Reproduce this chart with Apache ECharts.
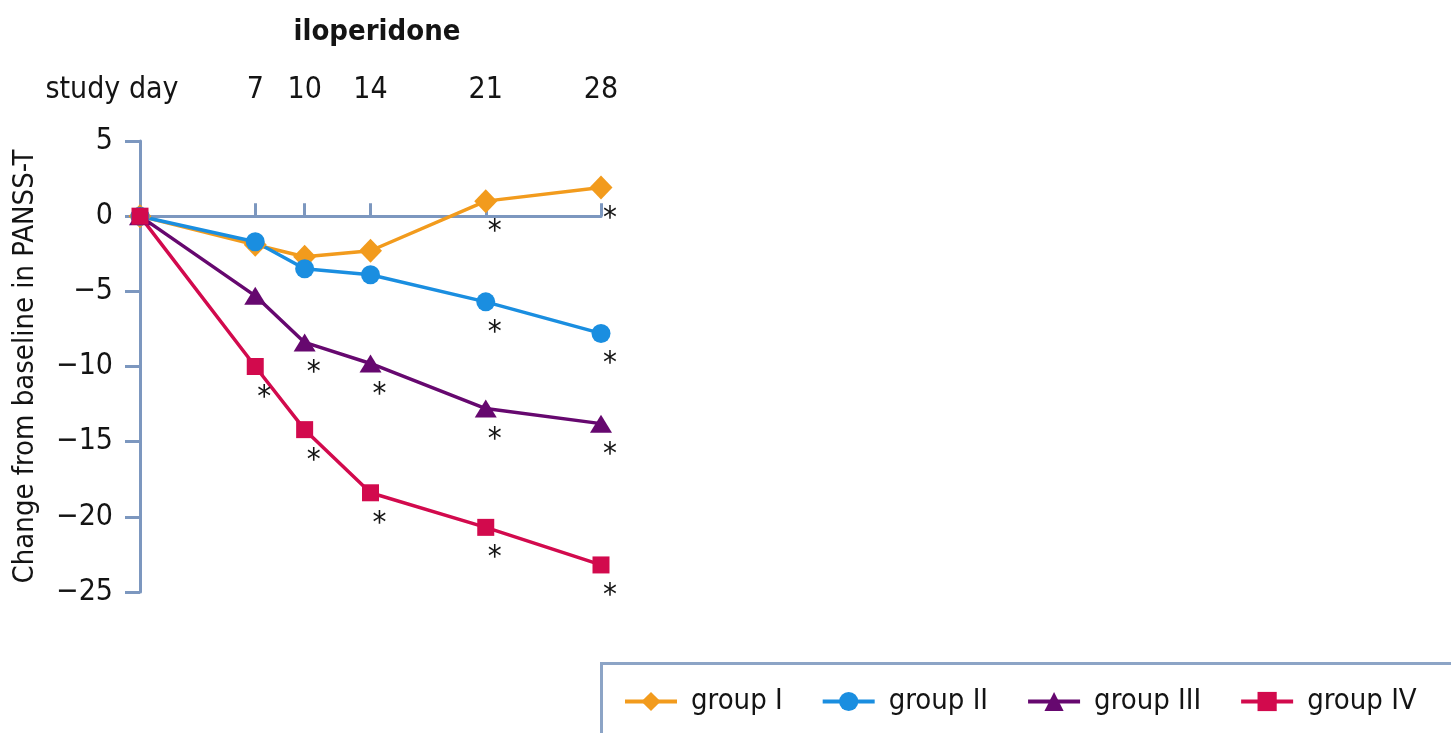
<!DOCTYPE html>
<html>
<head>
<meta charset="utf-8">
<script src="https://cdn.jsdelivr.net/npm/echarts@6/dist/echarts.min.js"></script>
<style>
  html, body { margin: 0; padding: 0; background: #ffffff; }
  #chart { width: 1451px; height: 733px; }
</style>
</head>
<body>
<div id="chart"></div>
<script>
// Study days and the days that carry a tick / label on the top scale
const days = [0, 7, 10, 14, 21, 28];
const dayTicks = [7, 10, 14, 21, 28];

// Mean change from baseline in PANSS-T per group
const groupNames = ['group I', 'group II', 'group III', 'group IV'];
const groupI   = [0, -1.9, -2.7, -2.3, 1.0, 1.9];
const groupII  = [0, -1.7, -3.5, -3.9, -5.7, -7.8];
const groupIII = [0, -5.3, -8.4, -9.8, -12.8, -13.8];
const groupIV  = [0, -10.0, -14.2, -18.4, -20.7, -23.2];

// Significance flags (1 = marked with an asterisk)
const sigI   = [0, 0, 0, 0, 1, 1];
const sigII  = [0, 0, 0, 0, 1, 1];
const sigIII = [0, 0, 1, 1, 1, 1];
const sigIV  = [0, 1, 1, 1, 1, 1];

const FONT = "'DejaVu Sans Condensed', 'Liberation Sans Narrow', 'Roboto', sans-serif";
const AXIS = '#7c97bf';
const INK = '#141414';

const groups = [
  { name: groupNames[0], values: groupI,   sig: sigI,   color: '#f29b1d', symbol: 'diamond',  size: [23, 24] },
  { name: groupNames[1], values: groupII,  sig: sigII,  color: '#1a8ee0', symbol: 'circle',   size: 19 },
  { name: groupNames[2], values: groupIII, sig: sigIII, color: '#66086f', symbol: 'triangle', size: [22, 18] },
  { name: groupNames[3], values: groupIV,  sig: sigIV,  color: '#d20a4d', symbol: 'rect',     size: 17 }
];

const chart = echarts.init(document.getElementById('chart'), null, { renderer: 'canvas' });

const option = {
  backgroundColor: '#ffffff',
  animation: false,
  textStyle: { fontFamily: FONT },
  title: {
    text: 'iloperidone',
    left: 372,
    top: 13,
    textAlign: 'center',
    textStyle: { fontFamily: FONT, fontWeight: 'bold', fontSize: 29, color: INK }
  },
  grid: { left: 140, right: 850, top: 141, bottom: 141, outerBoundsMode: 'none', containLabel: false },
  xAxis: [
    {
      type: 'value', min: 0, max: 28, position: 'bottom',
      axisLine: { onZero: true, lineStyle: { color: AXIS, width: 3 } },
      axisTick: { inside: true, length: 13, customValues: dayTicks, lineStyle: { color: AXIS, width: 3 } },
      axisLabel: { show: false },
      splitLine: { show: false }
    },
    {
      type: 'value', min: 0, max: 28, position: 'top',
      axisLine: { show: false },
      axisTick: { show: false },
      axisLabel: { customValues: dayTicks, margin: 36, fontSize: 30, color: INK, fontFamily: FONT },
      splitLine: { show: false }
    }
  ],
  yAxis: {
    type: 'value', min: -25, max: 5, interval: 5,
    name: 'Change from baseline in PANSS-T',
    nameLocation: 'middle',
    nameGap: 100,
    nameTextStyle: { fontSize: 29, color: INK, fontFamily: FONT },
    axisLine: { onZero: false, lineStyle: { color: AXIS, width: 3 } },
    axisTick: { length: 15, lineStyle: { color: AXIS, width: 3 } },
    axisLabel: {
      margin: 27, fontSize: 30, color: INK, fontFamily: FONT,
      formatter: v => (v < 0 ? '\u2212' + Math.abs(v) : String(v))
    },
    splitLine: { show: false }
  },
  legend: {
    left: 618,
    top: 682,
    width: 820,
    itemWidth: 52,
    itemHeight: 24,
    itemGap: 38,
    data: groupNames,
    lineStyle: { width: 4 },
    textStyle: { fontSize: 29, color: INK, fontFamily: FONT, padding: [0, 0, 0, 9] }
  },
  graphic: [
    {
      type: 'rect',
      x: 601.5, y: 663.5,
      shape: { width: 900, height: 100 },
      style: { fill: 'none', stroke: '#8ca4c6', lineWidth: 3 },
      silent: true
    },
    {
      type: 'text',
      x: 112, y: 90,
      style: {
        text: 'study day', fill: INK, font: '30px ' + FONT,
        align: 'center', verticalAlign: 'middle', textAlign: 'center', textVerticalAlign: 'middle'
      }
    }
  ],
  series: groups.map(g => ({
    type: 'line',
    name: g.name,
    xAxisIndex: 0,
    yAxisIndex: 0,
    symbol: g.symbol,
    symbolSize: g.size,
    showAllSymbol: true,
    lineStyle: { width: 3.5, color: g.color },
    itemStyle: { color: g.color },
    label: {
      show: false,
      formatter: '*',
      position: 'inside',
      offset: [9, 31],
      fontSize: 31,
      color: INK,
      fontFamily: FONT
    },
    data: days.map((d, i) => ({ value: [d, g.values[i]], label: { show: g.sig[i] === 1 } }))
  }))
};

chart.setOption(option);
</script>
</body>
</html>
